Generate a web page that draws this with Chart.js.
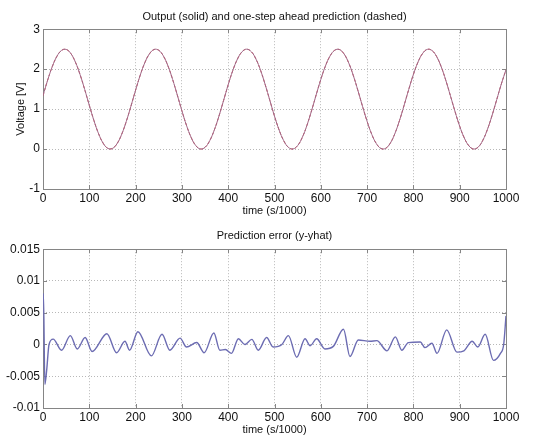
<!DOCTYPE html>
<html>
<head>
<meta charset="utf-8">
<script src="https://cdn.jsdelivr.net/npm/chart.js@4/dist/chart.umd.min.js"></script>
<style>
  body { margin: 0; background: #fff; }
  canvas { display: block; }
</style>
</head>
<body>
<canvas id="outputChart" width="545" height="218"></canvas>
<canvas id="errorChart" width="545" height="219"></canvas>
<script>
// time axis (s/1000), one sample every 10
const outputT = [0,10,20,30,40,50,60,70,80,90,100,110,120,130,140,150,160,170,180,190,200,
  210,220,230,240,250,260,270,280,290,300,310,320,330,340,350,360,370,380,390,400,
  410,420,430,440,450,460,470,480,490,500,510,520,530,540,550,560,570,580,590,600,
  610,620,630,640,650,660,670,680,690,700,710,720,730,740,750,760,770,780,790,800,
  810,820,830,840,850,860,870,880,890,900,910,920,930,940,950,960,970,980,990,1000];
// measured output voltage [V]
const outputV = [1.335,1.723,2.062,2.320,2.469,2.494,2.394,2.176,1.866,1.493,1.095,
  0.714,0.386,0.145,0.018,0.015,0.136,0.371,0.695,1.076,1.474,
  1.849,2.164,2.385,2.492,2.473,2.330,2.078,1.741,1.355,0.958,
  0.590,0.290,0.087,0.002,0.043,0.207,0.476,0.824,1.215,1.610,
  1.968,2.253,2.437,2.500,2.436,2.252,1.967,1.609,1.215,0.824,
  0.476,0.207,0.043,0.002,0.087,0.291,0.591,0.959,1.356,1.742,
  2.078,2.330,2.473,2.492,2.385,2.163,1.848,1.472,1.074,0.694,
  0.370,0.136,0.014,0.018,0.146,0.387,0.715,1.097,1.495,1.868,
  2.178,2.395,2.495,2.468,2.319,2.061,1.720,1.332,0.936,0.571,
  0.276,0.079,0.001,0.049,0.220,0.494,0.845,1.238,1.631,1.986];
// one-step ahead prediction (indistinguishable from the output at this scale)
const predictionV = outputV.slice();

// prediction error y - yhat
const errT = [0,1,4,8,13,22,40,59,74,91,106,138,159,177,187,205,234,257,274,296,310,
  332,348,369,382,394,407,422,436,451,465,483,497,516,530,548,566,577,591,609,627,
  649,663,681,706,721,743,761,775,789,815,825,840,851,872,894,909,927,939,955,973,
  988,995,1000];
const errV = [0.0075,0.008,-0.0063,-0.004,0,0.00085,-0.0009,0.0014,-0.0007,0.0011,-0.0011,
  0.0017,-0.0013,0.0005,-0.0009,0.002,-0.0018,0.0016,-0.0009,0.001,-0.0004,
  0.0003,-0.0013,0.0018,-0.0009,-0.0008,-0.0014,0.0009,0,0.0008,-0.0009,
  0.0011,-0.0004,0,0.0014,-0.002,0.0009,-0.0002,0.0009,-0.0007,-0.0003,
  0.0024,-0.0019,0.0007,0.0005,0.0006,-0.001,0.0012,-0.0009,0.0003,0.0004,
  -0.0005,0.0002,-0.0014,0.0023,-0.0012,-0.001,0.0005,-0.0004,0.0016,-0.0025,
  -0.0014,0,0.0045];

const xTicks = [0,100,200,300,400,500,600,700,800,900,1000];
const outputYTicks = [-1,0,1,2,3];
const errYTicks = [-0.01,-0.005,0,0.005,0.01,0.015];

const FONT = "'Liberation Sans', Arial, sans-serif";
const toPoints = (xs, ys) => xs.map((x, i) => ({ x: x, y: ys[i] }));

// matlab style box with inward tick marks, drawn under the curves
const boxPlugin = {
  id: 'box',
  beforeDatasetsDraw(chart) {
    const { ctx, chartArea: a, scales } = chart;
    ctx.save();
    ctx.strokeStyle = '#858585';
    ctx.lineWidth = 1;
    ctx.beginPath();
    scales.x.ticks.forEach(t => {
      const px = Math.round(scales.x.getPixelForValue(t.value)) + 0.5;
      ctx.moveTo(px, a.bottom); ctx.lineTo(px, a.bottom - 4);
      ctx.moveTo(px, a.top); ctx.lineTo(px, a.top + 4);
    });
    scales.y.ticks.forEach(t => {
      const py = Math.round(scales.y.getPixelForValue(t.value)) + 0.5;
      ctx.moveTo(a.left, py); ctx.lineTo(a.left + 4, py);
      ctx.moveTo(a.right, py); ctx.lineTo(a.right - 4, py);
    });
    ctx.stroke();
    ctx.strokeRect(Math.round(a.left) + 0.5, Math.round(a.top) + 0.5,
      Math.round(a.right - a.left), Math.round(a.bottom - a.top));
    ctx.restore();
  }
};

function makeOptions(title, yLabel, yMin, yMax, yTicks, titlePad) {
  return {
    responsive: false,
    animation: false,
    layout: { padding: { left: 0, right: 39, top: 0, bottom: 0 } },
    plugins: {
      legend: { display: false },
      tooltip: { enabled: false },
      title: {
        display: true, text: title, color: '#111', fullSize: false,
        font: { family: FONT, size: 11, weight: 'normal' },
        padding: titlePad
      }
    },
    scales: {
      x: {
        type: 'linear', min: 0, max: 1000,
        afterBuildTicks: s => { s.ticks = xTicks.map(v => ({ value: v })); },
        afterFit: s => { s.height = 29; },
        grid: { color: '#b8b8b8', drawTicks: false },
        border: { display: false, dash: [1, 2] },
        ticks: { color: '#111', padding: 2, maxRotation: 0, font: { family: FONT, size: 12 },
          callback: v => String(v) },
        title: { display: true, text: 'time (s/1000)', color: '#111', padding: 0,
          font: { family: FONT, size: 11 } }
      },
      y: {
        min: yMin, max: yMax,
        afterBuildTicks: s => { s.ticks = yTicks.map(v => ({ value: v })); },
        afterFit: s => { s.width = 43; },
        grid: { color: '#b8b8b8', drawTicks: false },
        border: { display: false, dash: [1, 2] },
        ticks: { color: '#111', padding: 3, font: { family: FONT, size: 12 },
          callback: v => String(+v.toFixed(4)) },
        title: { display: !!yLabel, text: yLabel, color: '#111', padding: { top: 14, bottom: 0 },
          font: { family: FONT, size: 11 } }
      }
    }
  };
}

new Chart(document.getElementById('outputChart'), {
  type: 'line',
  data: {
    datasets: [{
      label: 'Output',
      data: toPoints(outputT, outputV),
      borderColor: '#a06a8a',
      borderWidth: 1,
      pointRadius: 0,
      tension: 0.4
    }, {
      label: 'Prediction',
      data: toPoints(outputT, predictionV),
      borderColor: '#c8505a',
      borderDash: [3, 2],
      borderWidth: 1,
      pointRadius: 0,
      tension: 0.4
    }]
  },
  options: makeOptions('Output (solid) and one-step ahead prediction (dashed)', 'Voltage [V]',
    -1, 3, outputYTicks, { top: 10, bottom: 6 }),
  plugins: [boxPlugin]
});

new Chart(document.getElementById('errorChart'), {
  type: 'line',
  data: {
    datasets: [{
      label: 'Prediction error',
      data: toPoints(errT, errV),
      borderColor: '#6c6cb2',
      borderWidth: 1.4,
      pointRadius: 0,
      cubicInterpolationMode: 'monotone'
    }]
  },
  options: makeOptions('Prediction error (y-yhat)', '',
    -0.01, 0.015, errYTicks, { top: 11, bottom: 7 }),
  plugins: [boxPlugin]
});
</script>
</body>
</html>
